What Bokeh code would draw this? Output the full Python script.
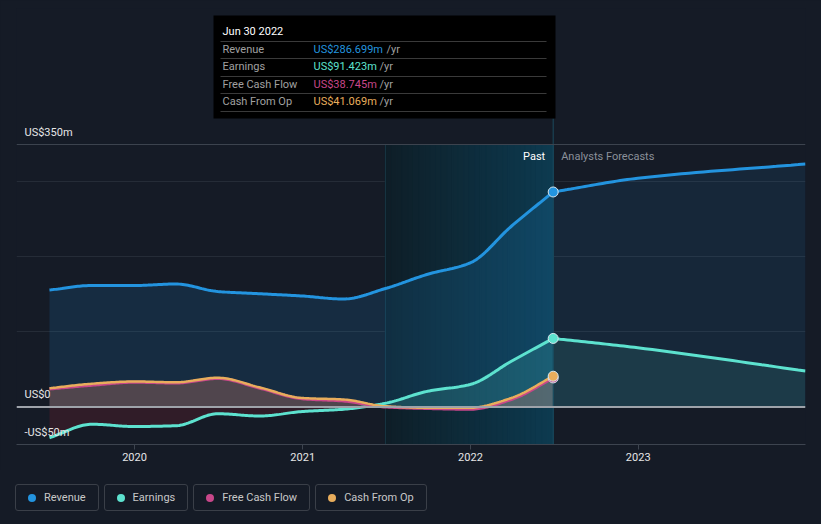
import numpy as np
import pandas as pd
from bokeh.plotting import figure
from bokeh.models import Range1d, Span, Grid, FixedTicker, DatetimeTickFormatter, Div
from bokeh.layouts import column
from bokeh.core.properties import value
from bokeh.embed import file_html
from bokeh.resources import INLINE

# ---------------- data ----------------
hist_dates = ["2019-06-30", "2019-09-30", "2019-12-31", "2020-03-31", "2020-06-30",
              "2020-09-30", "2020-12-31", "2021-03-31", "2021-06-30", "2021-09-30",
              "2021-12-31", "2022-03-31", "2022-06-30"]
revenue = [156, 162, 162, 164, 154, 151, 148, 144, 158, 177, 192, 241, 286.699]
earnings = [-41, -23, -26, -25, -9, -12, -6, -3, 5, 21, 30, 61, 91.423]
free_cash_flow = [24, 29, 33, 32, 38, 25, 11, 8, 0, -2, -3, 10, 38.745]
cash_from_op = [25, 31, 34, 33, 39, 26, 12, 10, 1, -1, -1, 12, 41.069]

fc_dates = ["2022-06-30", "2022-12-31", "2023-12-31"]
revenue_fc = [286.699, 305, 324]
earnings_fc = [91.423, 79, 48]

year_ticks = ["2020-01-01", "2021-01-01", "2022-01-01", "2023-01-01"]
y_label_vals = [350, 0, -50]
y_label_text = ["US$350m", "US$0", "-US$50m"]
grid_vals = [100, 200, 300]

series_names = ["Revenue", "Earnings", "Free Cash Flow", "Cash From Op"]
tooltip_date = "Jun 30 2022"
tooltip_vals = ["US$286.699m", "US$91.423m", "US$38.745m", "US$41.069m"]

# ---------------- style ----------------
BG = "#151b26"
C_REV = "#2394df"
C_EARN = "#5de2cf"
C_FCF = "#c8478a"
C_CFO = "#e8ad5c"
FONT = "Roboto"


def ms(d):
    return pd.Timestamp(d).value / 1e6


X0 = ms("2019-04-19 06:00")
X1 = ms("2023-12-31")
Y0, Y1 = -50, 531.33
FRAME_L, FRAME_R, FRAME_T, FRAME_B = 16, 805, 8, 444  # page px


def px_x(px):
    return X0 + (px - FRAME_L) * (X1 - X0) / (FRAME_R - FRAME_L)


def px_y(py):
    return Y0 + (FRAME_B - py) * (Y1 - Y0) / (FRAME_B - FRAME_T)


def monotone(xs, ys, n=24):
    xs = np.asarray(xs, float)
    ys = np.asarray(ys, float)
    h = np.diff(xs)
    d = np.diff(ys) / h
    m = np.zeros_like(ys)
    m[0] = d[0]
    m[-1] = d[-1]
    for i in range(1, len(xs) - 1):
        if d[i - 1] * d[i] <= 0:
            m[i] = 0
        else:
            w1 = 2 * h[i] + h[i - 1]
            w2 = h[i] + 2 * h[i - 1]
            m[i] = (w1 + w2) / (w1 / d[i - 1] + w2 / d[i])
    ox, oy = [], []
    for i in range(len(xs) - 1):
        t = np.linspace(0, 1, n, endpoint=(i == len(xs) - 2))
        h00 = 2 * t**3 - 3 * t**2 + 1
        h10 = t**3 - 2 * t**2 + t
        h01 = -2 * t**3 + 3 * t**2
        h11 = t**3 - t**2
        ox.extend(xs[i] + t * h[i])
        oy.extend(h00 * ys[i] + h10 * h[i] * m[i] + h01 * ys[i + 1] + h11 * h[i] * m[i + 1])
    return np.array(ox), np.array(oy)


hx = [ms(d) for d in hist_dates]
fx = [ms(d) for d in fc_dates]

p = figure(width=821, height=470, x_axis_type="datetime", y_axis_location=None,
           toolbar_location=None, output_backend="svg",
           x_range=Range1d(X0, X1), y_range=Range1d(Y0, Y1),
           min_border_left=16, min_border_right=16, min_border_top=8, min_border_bottom=26,
           background_fill_color=BG, border_fill_color=BG, outline_line_color=None)
for g in p.grid:
    g.visible = False

# past highlight band (last year of history) as a gradient
band_start, band_end = ms(hist_dates[-5]), ms(hist_dates[-1])
nstrip = 30
edges = np.linspace(band_start, band_end, nstrip + 1)
c0 = np.array([14, 30, 39])
c1 = np.array([13, 58, 80])
cols = []
for i in range(nstrip):
    c = c0 + (c1 - c0) * (i + 0.5) / nstrip
    cols.append("#%02x%02x%02x" % tuple(int(round(v)) for v in c))
p.quad(left=edges[:-1], right=edges[1:], bottom=-50, top=350, fill_color=cols,
       line_color=cols, line_width=1.2)
p.segment(x0=[band_start], x1=[band_start], y0=[-50], y1=[350], line_color="#173644", line_width=1)

p.add_layout(Grid(dimension=1, ticker=FixedTicker(ticks=grid_vals),
                  grid_line_color="#252c37", grid_line_width=1))

# smoothed series
rx, ry = monotone(hx, revenue)
ex, ey = monotone(hx, earnings)
fcx, fcy = monotone(hx, free_cash_flow)
cx, cy = monotone(hx, cash_from_op)
rfx, rfy = monotone(fx, revenue_fc)
efx, efy = monotone(fx, earnings_fc)

# fills
p.varea(x=rx, y1=0, y2=ry, fill_color=C_REV, fill_alpha=0.15)
p.varea(x=rfx, y1=0, y2=rfy, fill_color=C_REV, fill_alpha=0.10)
p.varea(x=ex, y1=0, y2=np.minimum(ey, 0), fill_color="#d02838", fill_alpha=0.15)
p.varea(x=ex, y1=0, y2=np.maximum(ey, 0), fill_color=C_EARN, fill_alpha=0.15)
p.varea(x=efx, y1=0, y2=efy, fill_color=C_EARN, fill_alpha=0.10)
p.varea(x=cx, y1=0, y2=np.maximum(cy, 0), fill_color="#d8806a", fill_alpha=0.30)

# reference lines
p.add_layout(Span(location=350, dimension="width", line_color="#3d444f", line_width=1))
p.add_layout(Span(location=0, dimension="width", line_color="#9ea3aa", line_width=2))

# vertical marker at the last actual date
p.segment(x0=[hx[-1]], x1=[hx[-1]], y0=[px_y(118)], y1=[-50], line_color="#1b4a5e", line_width=1)

# lines
p.line(rx, ry, line_color=C_REV, line_width=3)
p.line(rfx, rfy, line_color=C_REV, line_width=3)
p.line(ex, ey, line_color=C_EARN, line_width=3)
p.line(efx, efy, line_color=C_EARN, line_width=3)
p.line(fcx, fcy, line_color=C_FCF, line_width=3)
p.line(cx, cy, line_color=C_CFO, line_width=2.5)

# end-of-history dots
p.scatter(x=[hx[-1]] * 4, y=[revenue[-1], earnings[-1], free_cash_flow[-1], cash_from_op[-1]],
          size=10, fill_color=[C_REV, C_EARN, C_FCF, C_CFO], line_color="#d8e6ee", line_width=1)

# Past / forecast labels
p.text(x=[hx[-1]], y=[350], text=["Past"], x_offset=[-8], y_offset=[12],
       text_align="right", text_baseline="middle", text_color="#ffffff",
       text_font=value(FONT), text_font_size="11px")
p.text(x=[hx[-1]], y=[350], text=["Analysts Forecasts"], x_offset=[8], y_offset=[12],
       text_align="left", text_baseline="middle", text_color="#8a9099",
       text_font=value(FONT), text_font_size="11px")

# y labels
p.text(x=[px_x(24)] * 3, y=y_label_vals, text=y_label_text, y_offset=-12,
       text_align="left", text_baseline="middle", text_color="#e6e6e6",
       text_font=value(FONT), text_font_size="11px")

# tooltip box
p.quad(left=[px_x(213)], right=[px_x(555)], top=[px_y(15)], bottom=[px_y(118)],
       fill_color="#000000", line_color=None)
p.text(x=[px_x(222)], y=[px_y(31)], text=[tooltip_date], text_align="left",
       text_baseline="middle", text_color="#ffffff", text_font=value(FONT),
       text_font_size="11px", text_font_style="normal")
sep_y = [41, 58, 76, 93, 111]
p.segment(x0=[px_x(220)] * 5, x1=[px_x(546)] * 5, y0=[px_y(v) for v in sep_y],
          y1=[px_y(v) for v in sep_y], line_color="#3a3a3a", line_width=1)
row_y = [px_y(v) for v in [49, 66, 84, 101]]
p.text(x=[px_x(222)] * 4, y=row_y, text=series_names, text_align="left",
       text_baseline="middle", text_color="#a0a0a0", text_font=value(FONT),
       text_font_size="11px")
p.text(x=[px_x(313)] * 4, y=row_y, text=tooltip_vals, text_align="left",
       text_baseline="middle", text_color=[C_REV, C_EARN, C_FCF, C_CFO],
       text_font=value(FONT), text_font_size="11px")
p.text(x=[px_x(v) for v in [386, 379, 379, 379]], y=row_y, text=["/yr"] * 4,
       text_align="left", text_baseline="middle", text_color="#a0a0a0",
       text_font=value(FONT), text_font_size="11px")

# x axis
ax = p.xaxis[0]
ax.ticker = FixedTicker(ticks=[ms(d) for d in year_ticks])
ax.formatter = DatetimeTickFormatter(years="%Y", months="%Y", days="%Y", hours="%Y",
                                     minutes="%Y", seconds="%Y", milliseconds="%Y",
                                     microseconds="%Y", hourmin="%Y", minsec="%Y")
ax.axis_line_color = "#3d444f"
ax.major_tick_line_color = "#3d444f"
ax.major_tick_out = 5
ax.major_tick_in = 0
ax.minor_tick_line_color = None
ax.major_label_standoff = 3
ax.major_label_text_color = "#e6e6e6"
ax.major_label_text_font = FONT
ax.major_label_text_font_size = "11px"

# legend as HTML boxes
items = ""
for name, col in zip(series_names, [C_REV, C_EARN, C_FCF, C_CFO]):
    items += ('<div style="box-sizing:border-box;height:27px;border:1px solid #3a3f48;'
              'border-radius:3px;display:flex;align-items:center;padding:0 12px 0 12px;">'
              '<span style="display:inline-block;width:8px;height:8px;border-radius:50%%;'
              'background:%s;margin-right:8px;"></span>%s</div>' % (col, name))
legend = Div(text=('<div style="display:flex;gap:5px;margin-top:9px;margin-left:10px;'
                   'font-family:Roboto;font-size:11px;color:#c8c8c8;">%s</div>' % items),
             width=821, height=52, styles={"background-color": BG})

layout = column(p, legend, spacing=0, styles={"background-color": BG})
html = file_html(layout, INLINE)
html = html.replace("</head>",
                    "<style>html,body{background:%s;margin:0;padding:0;overflow:hidden;}</style></head>" % BG)
open("out.html", "w").write(html)
